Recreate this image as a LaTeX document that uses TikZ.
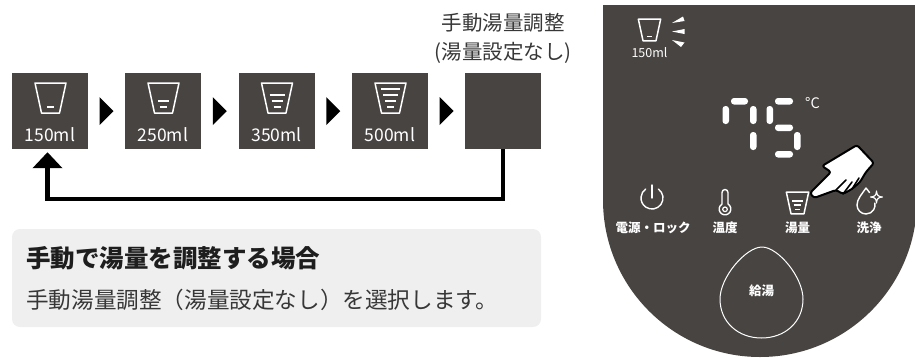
\documentclass[tikz,border=0pt]{standalone}
\usepackage{fontspec}
\setmainfont{Noto Sans CJK JP}
\usetikzlibrary{arrows.meta,calc}

\definecolor{panel}{RGB}{72,68,66}
\definecolor{note}{RGB}{239,239,239}
\definecolor{ink}{RGB}{30,30,30}
\definecolor{softink}{RGB}{55,55,55}

\newcommand{\fsz}[1]{\fontsize{#1}{#1}\selectfont}

\begin{document}
\begin{tikzpicture}[x=1pt,y=-1pt,
  stepbox/.style={fill=panel, minimum width=76pt, minimum height=76pt, inner sep=0pt},
  mltext/.style={text=white, font=\fsz{17.5}, inner sep=0pt},
  stepmark/.style={fill=black},
  loopline/.style={line width=4.5pt, line join=miter, -{Triangle[length=16pt,width=29pt]}},
  seg/.style={fill=white, rounded corners=3pt},
  icon/.style={draw=white, line width=1.4pt, line cap=round, line join=round},
  btnlabel/.style={text=white, font=\bfseries\fsz{12.5}, inner sep=0pt},
  pics/cup/.style={code={
    \draw[white, line width=1.5pt, line join=round]
      (-15.5,-15) -- (15.5,-15) -- (9,15) -- (-9,15) -- cycle;
    \foreach \k in {1,...,#1}{
      \draw[white, line width=1.5pt]
        ({-1.5-2*\k},{15-6*\k}) -- ({1.5+2*\k},{15-6*\k});
    }
  }}
]
\useasboundingbox (0,0) rectangle (915,357);

% ---------- cycle of cup-size steps ----------
\node[stepbox] (b1) at (50,111) {};
\node[stepbox] (b2) at (163,111) {};
\node[stepbox] (b3) at (276.5,111) {};
\node[stepbox] (b4) at (390,111) {};
\node[stepbox] (b5) at (503,111) {};

\foreach \b/\n/\t in {b1/1/150ml, b2/2/250ml, b3/3/350ml, b4/4/500ml}{
  \pic at ($(\b.center)+(0.5,-13)$) {cup=\n};
  \node[mltext] at ($(\b.center)+(0,24)$) {\t};
}

\foreach \a/\b in {b1/b2, b2/b3, b3/b4, b4/b5}{
  \fill[stepmark] ($(\a.east)!0.5!(\b.west)+(-7,-14)$) -- ++(14,14) -- ++(-14,14) -- cycle;
}

\node[text=softink, font=\fsz{20.5}, inner sep=0pt] (manual1) at (503,23) {手動湯量調整};
\node[text=softink, font=\fsz{20.5}, inner sep=0pt] (manual2) at (503,53) {(湯量設定なし)};

\coordinate (back) at ($(b1.south)+(-2.5,3)$);
\draw[loopline] (b5.south) -- ++(0,50) -| (back);

% ---------- explanation note ----------
\node[fill=note, rounded corners=8pt, minimum width=529pt, minimum height=98pt,
      inner sep=0pt] (note) at (276.5,278) {};
\node[anchor=west, text=ink, font=\bfseries\fsz{24.5}, inner sep=0pt]
  (notetitle) at (26,258.5) {手動で湯量を調整する場合};
\node[anchor=west, text=softink, font=\fsz{22.6}, inner sep=0pt]
  (notebody) at (26,300) {手動湯量調整（湯量設定なし）を選択します。};

% ---------- control panel ----------
\fill[panel] (603,5) rectangle (917,200);
\fill[panel] (760,200) circle (157);

% selected size indicator
\pic[scale=0.72] at (649.5,30) {cup=1};
\node[text=white, font=\fsz{12.5}, inner sep=0pt] (size) at (649.5,53) {150ml};
\fill[white] (672,23) -- (683,16.5) -- (684.5,21) -- cycle;
\fill[white] (672,31.5) -- (684.5,29) -- (684.5,34) -- cycle;
\fill[white] (672,40) -- (684.5,42.5) -- (681,47) -- cycle;

% seven-segment temperature
\fill[seg] (731,98) rectangle (748,104.5);
\fill[seg] (722.5,106) rectangle (729,124);
\fill[seg] (750,106) rectangle (756.5,124);
\fill[seg] (750,132) rectangle (756.5,150);
\fill[seg] (775,98) rectangle (793,104.5);
\fill[seg] (766.5,106) rectangle (773,124);
\fill[seg] (775,124.5) rectangle (793,131);
\fill[seg] (794,132) rectangle (800.5,150);
\fill[seg] (775,151) rectangle (793,157.5);
\node[text=white, font=\fsz{14.5}, inner sep=0pt] (unit) at (812.5,103) {°C};

% power button
\draw[icon] (658.3,189) arc[start angle=-55, end angle=235, radius=11];
\draw[icon] (652,185) -- (652,198);
\node[btnlabel] (lpower) at (653,228) {電源・ロック};

% temperature button
\draw[icon] (722,204) -- (722,192.5) arc[start angle=180, end angle=360, radius=3]
  -- (728,204) arc[start angle=-59, end angle=239, radius=5.83] -- cycle;
\draw[white, line width=1.2pt] (725,209.3) circle (2.3);
\node[btnlabel] (ltemp) at (725,228) {温度};

% amount button
\pic[scale=0.72] at (797.5,203) {cup=3};
\node[btnlabel] (lamount) at (797.5,228) {湯量};

% cleaning button
\draw[icon] (869.5,192.5) -- (866,188) .. controls (862,194) and (857,199) .. (857,205)
  arc[start angle=180, end angle=-12, radius=9];
\draw[icon, line width=1.2pt] (876.5,191) .. controls (876.5,195) and (878.5,197) .. (882.5,197)
  .. controls (878.5,197) and (876.5,199) .. (876.5,203)
  .. controls (876.5,199) and (874.5,197) .. (870.5,197)
  .. controls (874.5,197) and (876.5,195) .. (876.5,191) -- cycle;
\node[btnlabel] (lclean) at (869,228) {洗浄};

% pointing hand
\draw[fill=white, draw=black, line width=2pt, rounded corners=2.5pt, line join=round]
  (810,193) -- (831,172) -- (822,166) -- (857,145) -- (874,163) -- (866,172)
  -- (860,182) -- (852,189) -- (843,194) -- (836,190) -- (814,198) -- cycle;
\draw[black, line width=1.6pt, line cap=round] (836,190) -- (846,180);
\draw[black, line width=1.6pt, line cap=round] (843,194) -- (852,182);
\draw[black, line width=1.6pt, line cap=round] (852,189) -- (859,178);

% dispense button
\draw[white, line width=1pt] (762,247) .. controls (778,247) and (803,277) .. (803,299)
  .. controls (803,322) and (785,338) .. (761.5,338)
  .. controls (738,338) and (720,322) .. (720,299)
  .. controls (720,277) and (746,247) .. (762,247) -- cycle;
\node[btnlabel] (ldispense) at (761.5,291) {給湯};

\end{tikzpicture}
\end{document}
